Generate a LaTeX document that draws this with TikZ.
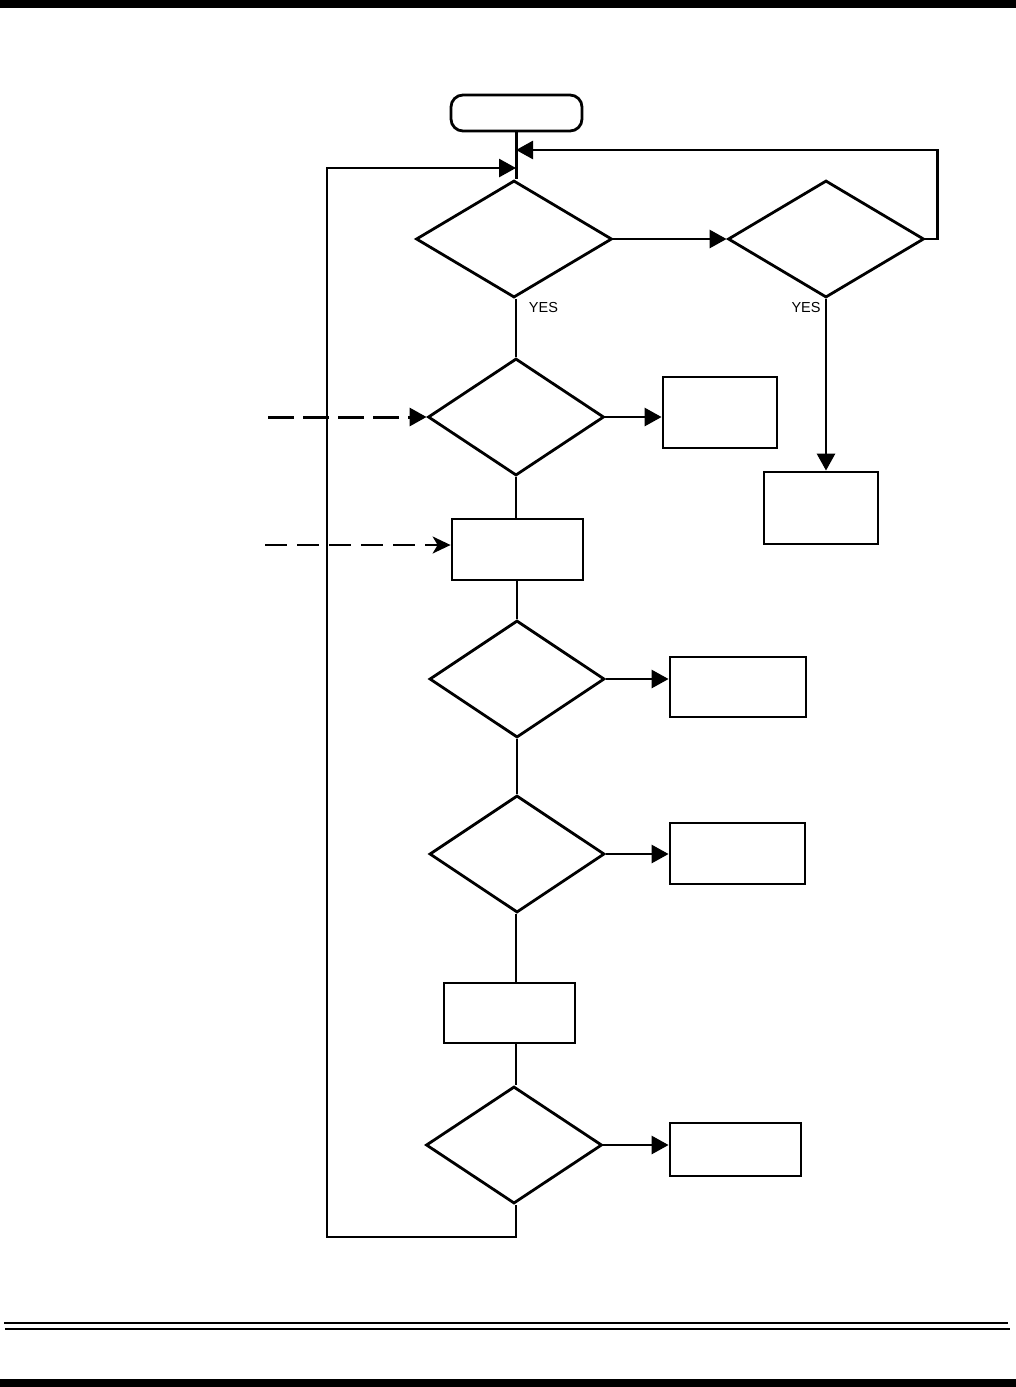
\documentclass[tikz,border=0pt]{standalone}
\usepackage{fontspec}
\setmainfont{Liberation Sans}
\usetikzlibrary{shapes.geometric,arrows.meta,calc}
\begin{document}
\begin{tikzpicture}[x=1pt,y=-1pt,
  dec/.style={diamond, draw, line width=2.8pt, inner sep=0pt, minimum height=117pt},
  box/.style={rectangle, draw, line width=2.8pt, inner sep=0pt},
  conn/.style={line width=2.8pt},
  arr/.style={conn, -{Triangle[length=17pt,width=18pt]}},
  dashA/.style={line width=3pt, dash pattern=on 26pt off 9pt, -{Triangle[length=17pt,width=18pt]}},
  dashB/.style={line width=2pt, dash pattern=on 22pt off 10pt, -{Stealth[length=18pt,width=17pt,inset=5pt]}},
  yes/.style={font=\fontsize{14.5}{15}\selectfont, inner sep=0pt}]
\useasboundingbox (0,0) rectangle (1016,1387);
% page rules
\fill (0,0) rectangle (1016,8);
\fill (0,1379) rectangle (1016,1387);
\draw[line width=2.4pt] (4,1323) -- (1008,1323);
\draw[line width=2.4pt] (5,1329) -- (1010,1329);
% nodes
\node[box, rounded corners=12pt, minimum width=131pt, minimum height=36pt] (start) at (516.5,113) {};
\node[dec, minimum width=196pt] (d1) at (514,239) {};
\node[dec, minimum width=196pt] (d2) at (826,239) {};
\node[dec, minimum width=176pt] (d3) at (516,417) {};
\node[box, minimum width=114pt, minimum height=71pt] (bA) at (720,412.5) {};
\node[box, minimum width=114pt, minimum height=72pt] (bB) at (821,508) {};
\node[box, minimum width=131pt, minimum height=61pt] (p1) at (517.5,549.5) {};
\node[dec, minimum width=175pt] (d4) at (517,679) {};
\node[box, minimum width=136pt, minimum height=60pt] (bC) at (738,687) {};
\node[dec, minimum width=175pt] (d5) at (517,854) {};
\node[box, minimum width=135pt, minimum height=61pt] (bD) at (737.5,853.5) {};
\node[box, minimum width=131pt, minimum height=60pt] (p2) at (509.5,1013) {};
\node[dec, minimum width=176pt] (d6) at (514,1145) {};
\node[box, minimum width=131pt, minimum height=53pt] (bE) at (735.5,1149.5) {};
\node[yes] (y1) at (543.5,307.5) {YES};
\node[yes] (y2) at (806,307.5) {YES};
% junctions and free ends
\coordinate (j1) at (516,150);
\coordinate (j2) at (516,168);
\coordinate (lp) at (327,168);
\coordinate (in1) at (268,417);
\coordinate (in2) at (265,545);
% connectors
\draw[conn] (start.south) -- (start.south |- d1.north);
\draw[arr] (d1.east) -- (d2.west);
\draw[arr] (d2.east) -- ++(12,0) |- (j1);
\draw[arr] (d2.south) -- (d2.south |- bB.north);
\draw[conn] (d1.south -| d3.north) -- (d3.north);
\draw[arr] (d3.east) -- (d3.east -| bA.west);
\draw[dashA] (in1) -- (d3.west);
\draw[dashB] (in2) -- (in2 -| p1.west);
\draw[conn] (d3.south) -- (d3.south |- p1.north);
\draw[conn] (p1.south -| d4.north) -- (d4.north);
\draw[arr] (d4.east) -- (d4.east -| bC.west);
\draw[conn] (d4.south) -- (d5.north);
\draw[arr] (d5.east) -- (d5.east -| bD.west);
\draw[conn] (d5.south -| 516,0) -- (516,0 |- p2.north);
\draw[conn] (516,0 |- p2.south) -- (516,0 |- d6.north);
\draw[arr] (d6.east) -- (d6.east -| bE.west);
\draw[arr] (d6.south -| 516,0) -- (516,1237) -| (lp) -- (j2);
\end{tikzpicture}
\end{document}
